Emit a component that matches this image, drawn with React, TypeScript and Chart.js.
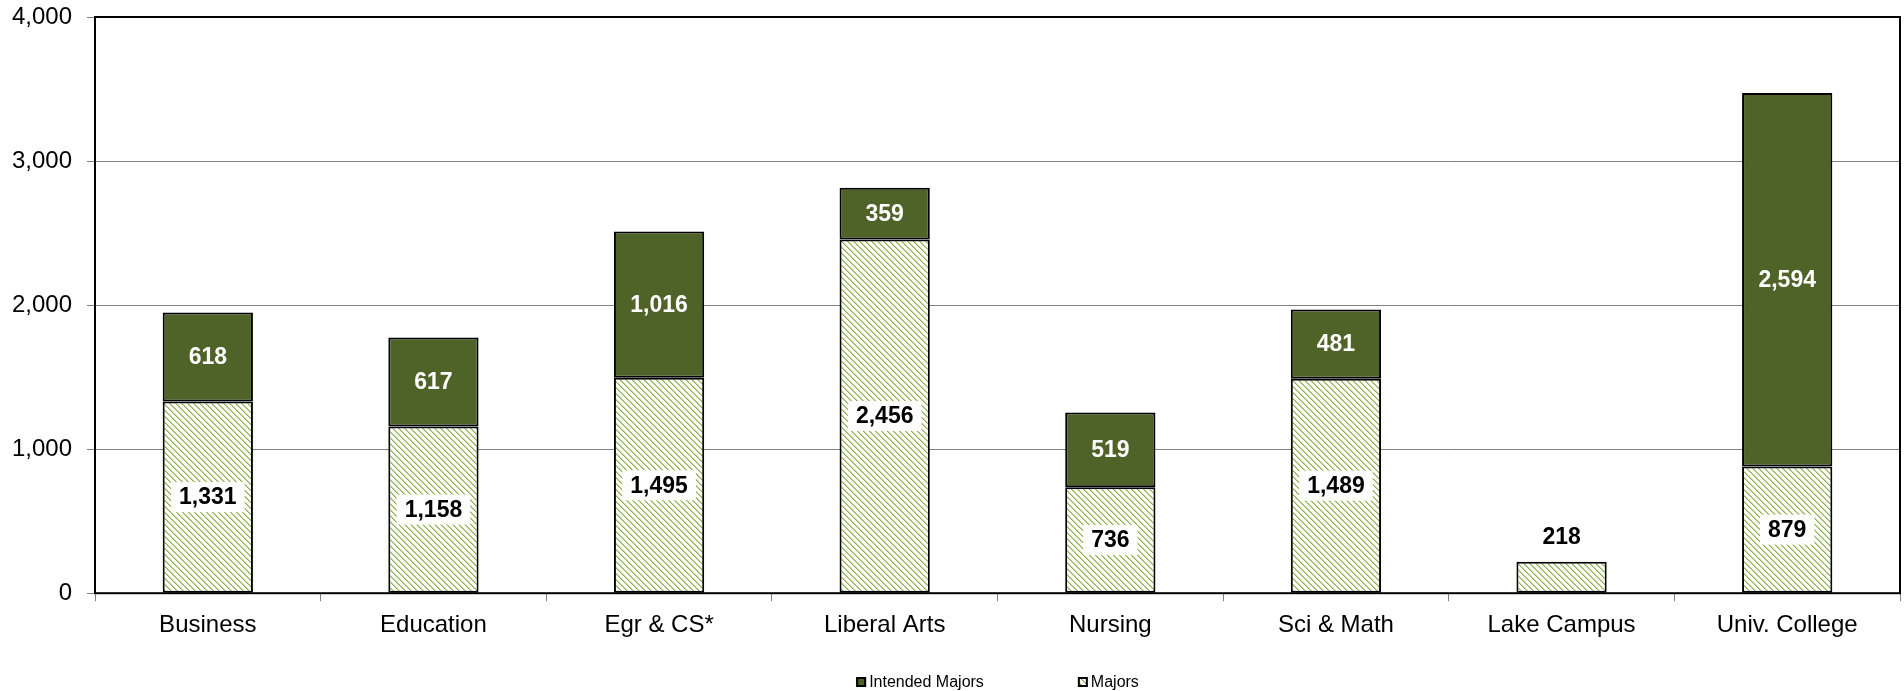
import React, { useEffect, useRef } from "react";
import { Chart, registerables } from "chart.js";

Chart.register(...registerables);

const categories = [
  "Business",
  "Education",
  "Egr & CS*",
  "Liberal Arts",
  "Nursing",
  "Sci & Math",
  "Lake Campus",
  "Univ. College",
];
const majors = [1331, 1158, 1495, 2456, 736, 1489, 218, 879];
const intendedMajors = [618, 617, 1016, 359, 519, 481, null, 2594];
const seriesNames = ["Intended Majors", "Majors"];
const yMin = 0;
const yMax = 4000;
const yStep = 1000;

const DARK_GREEN = "#4F6228";
const HATCH_GREEN = "#9BBB59";
const FONT = "'Liberation Sans', Arial, Helvetica, sans-serif";

function makeHatch(): CanvasPattern | string {
  const size = 6;
  const c = document.createElement("canvas");
  c.width = size;
  c.height = size;
  const cx = c.getContext("2d");
  if (!cx) return HATCH_GREEN;
  const img = cx.createImageData(size, size);
  const dark = [0x8c, 0xae, 0x4c];
  const light = [0xbc, 0xd3, 0x92];
  for (let y = 0; y < size; y++) {
    for (let x = 0; x < size; x++) {
      const idx = (y * size + x) * 4;
      const d = (((x - y) % size) + size) % size;
      const col = d === 0 ? dark : d === 1 ? light : [255, 255, 255];
      img.data[idx] = col[0];
      img.data[idx + 1] = col[1];
      img.data[idx + 2] = col[2];
      img.data[idx + 3] = 255;
    }
  }
  cx.putImageData(img, 0, 0);
  const main = document.createElement("canvas").getContext("2d");
  return (main && main.createPattern(c, "repeat")) || HATCH_GREEN;
}

const fmt = (v: number) => v.toLocaleString("en-US");

const borderPlugin = {
  id: "plotBorder",
  beforeDatasetsDraw(chart: any) {
    const { ctx, chartArea: a } = chart;
    ctx.save();
    ctx.strokeStyle = "#000";
    ctx.lineWidth = 2;
    ctx.strokeRect(a.left, a.top, a.right - a.left, a.bottom - a.top);
    ctx.restore();
  },
};

const labelPlugin = {
  id: "segmentLabels",
  afterDatasetsDraw(chart: any) {
    const ctx = chart.ctx;
    ctx.save();
    ctx.font = `bold 23px ${FONT}`;
    ctx.textAlign = "center";
    ctx.textBaseline = "middle";
    chart.data.datasets.forEach((ds: any, di: number) => {
      const meta = chart.getDatasetMeta(di);
      meta.data.forEach((el: any, i: number) => {
        const v = ds.data[i];
        if (v == null || v === 0) return;
        const { x, y, base } = el.getProps(["x", "y", "base"], true);
        const txt = fmt(v);
        const h = Math.abs(base - y);
        if (h < 40) {
          ctx.fillStyle = "#000";
          ctx.fillText(txt, x, Math.min(y, base) - 24);
          return;
        }
        const cy = (y + base) / 2;
        if (ds.label === "Majors") {
          const w = ctx.measureText(txt).width;
          ctx.fillStyle = "#fff";
          ctx.fillRect(x - w / 2 - 8, cy - 15, w + 16, 30);
          ctx.fillStyle = "#000";
        } else {
          ctx.fillStyle = "#fff";
        }
        ctx.fillText(txt, x, cy + 1);
      });
    });
    ctx.restore();
  },
};

const legendPlugin = {
  id: "customLegend",
  afterDraw(chart: any) {
    const { ctx, chartArea: a } = chart;
    const ds = chart.data.datasets;
    const items = [ds[1], ds[0]];
    ctx.save();
    ctx.font = `16px ${FONT}`;
    ctx.textBaseline = "middle";
    ctx.textAlign = "left";
    const box = 10;
    const boxGap = 3;
    const itemGap = 94;
    const widths = items.map((it: any) => box + boxGap + ctx.measureText(it.label).width);
    const total = widths.reduce((s: number, w: number) => s + w, 0) + itemGap * (items.length - 1);
    let x = (a.left + a.right) / 2 - total / 2;
    const cy = chart.height - 9;
    items.forEach((it: any, k: number) => {
      ctx.fillStyle = it.backgroundColor;
      ctx.fillRect(x, cy - box / 2, box, box);
      ctx.strokeStyle = "#000";
      ctx.lineWidth = 2;
      ctx.strokeRect(x + 1, cy - box / 2 + 1, box - 2, box - 2);
      ctx.fillStyle = "#000";
      ctx.fillText(it.label, x + box + boxGap, cy + 1);
      x += widths[k] + itemGap;
    });
    ctx.restore();
  },
};

export default function App() {
  const ref = useRef<HTMLCanvasElement | null>(null);

  useEffect(() => {
    if (!ref.current) return;
    const hatch = makeHatch();
    Chart.defaults.color = "#000";
    const chart = new Chart(ref.current, {
      type: "bar",
      data: {
        labels: categories,
        datasets: [
          {
            label: seriesNames[1],
            data: majors,
            backgroundColor: hatch as any,
            borderColor: "#000",
            borderWidth: 2,
            borderSkipped: false,
            barPercentage: 0.4,
            categoryPercentage: 1,
          },
          {
            label: seriesNames[0],
            data: intendedMajors as any,
            backgroundColor: DARK_GREEN,
            borderColor: "#000",
            borderWidth: 2,
            borderSkipped: false,
            barPercentage: 0.4,
            categoryPercentage: 1,
          },
        ],
      },
      options: {
        responsive: false,
        animation: false,
        layout: { padding: { left: 12, right: 4, top: 0, bottom: 41 } },
        plugins: {
          legend: { display: false },
          tooltip: { enabled: false },
        },
        scales: {
          x: {
            stacked: true,
            border: { display: false },
            grid: {
              display: true,
              drawOnChartArea: false,
              drawTicks: true,
              tickLength: 8,
              color: "#808080",
              offset: true,
            },
            ticks: {
              color: "#000",
              padding: 10,
              font: { family: FONT, size: 24 },
              maxRotation: 0,
              autoSkip: false,
            },
            afterFit: (s: any) => {
              s.paddingLeft = 0;
              s.paddingRight = 0;
            },
          },
          y: {
            stacked: true,
            min: yMin,
            max: yMax,
            border: { display: false },
            grid: {
              color: "#808080",
              lineWidth: 1,
              drawTicks: true,
              tickLength: 8,
            },
            ticks: {
              stepSize: yStep,
              color: "#000",
              padding: 15,
              font: { family: FONT, size: 24 },
              callback: (v: any) => fmt(Number(v)),
            },
            afterFit: (s: any) => {
              s.width = 83;
              s.paddingTop = 17;
              s.paddingBottom = 0;
            },
          },
        },
      },
      plugins: [borderPlugin, labelPlugin, legendPlugin],
    });
    return () => chart.destroy();
  }, []);

  return (
    <div style={{ position: "absolute", left: 0, top: 0, width: 1904, height: 691, background: "#fff" }}>
      <canvas ref={ref} width={1904} height={691} style={{ display: "block" }} />
    </div>
  );
}
